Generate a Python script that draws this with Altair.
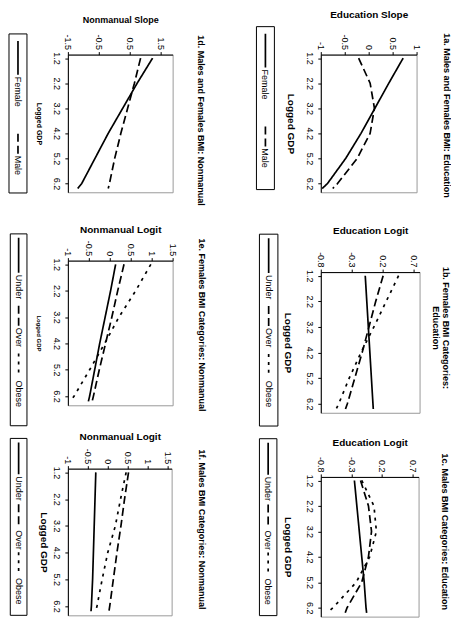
import altair as alt
import pandas as pd

FONT = "Liberation Sans"

# ---------------- data ----------------
GDP = [1.2, 2.2, 3.2, 4.2, 5.2, 6.2, 6.4]
GDP_TICKS = [1.2, 2.2, 3.2, 4.2, 5.2, 6.2]

SEX = ["Female", "Male"]
BMI = ["Under", "Over", "Obese"]

# 1a  Males and Females BMI: Education
edu_slope_female = [0.72, 0.42, 0.13, -0.16, -0.48, -0.86, -0.97]
edu_slope_male = [-0.21, 0.03, 0.12, 0.03, -0.24, -0.65, -0.75]
# 1b  Females BMI Categories: Education
edu_fem_under = [-0.08, -0.055, -0.03, -0.005, 0.02, 0.045, 0.05]
edu_fem_over = [0.21, 0.09, -0.02, -0.13, -0.25, -0.37, -0.40]
edu_fem_obese = [0.46, 0.26, 0.06, -0.15, -0.34, -0.51, -0.55]
# 1c  Males BMI Categories: Education
edu_male_under = [-0.25, -0.21, -0.17, -0.13, -0.09, -0.06, -0.05]
edu_male_over = [-0.15, -0.02, 0.03, -0.02, -0.13, -0.37, -0.40]
edu_male_obese = [-0.13, 0.07, 0.11, 0.0, -0.22, -0.60, -0.69]
# 1d  Males and Females BMI: Nonmanual
nm_slope_female = [1.25, 0.75, 0.28, -0.19, -0.62, -1.05, -1.18]
nm_slope_male = [0.86, 0.66, 0.44, 0.22, 0.02, -0.15, -0.19]
# 1e  Females BMI Categories: Nonmanual
nm_fem_under = [0.14, 0.02, -0.11, -0.24, -0.36, -0.48, -0.51]
nm_fem_over = [0.34, 0.19, 0.05, -0.10, -0.25, -0.39, -0.42]
nm_fem_obese = [0.98, 0.62, 0.22, -0.12, -0.48, -0.85, -0.94]
# 1f  Males BMI Categories: Nonmanual
nm_male_under = [-0.30, -0.32, -0.34, -0.36, -0.38, -0.41, -0.42]
nm_male_over = [0.52, 0.42, 0.33, 0.23, 0.14, 0.05, 0.03]
nm_male_obese = [0.46, 0.32, 0.19, 0.0, -0.14, -0.27, -0.30]

TICKS_A = [-1, -0.5, 0, 0.5, 1]
TICKS_BC = [-0.8, -0.3, 0.2, 0.7]
TICKS_D = [-1.5, -0.5, 0.5, 1.5]
TICKS_EF = [-1, -0.5, 0, 0.5, 1, 1.5]

# ---------------- styles ----------------
LW = 1.7
SOLID = [1, 0]
LONG = [8, 4]
SHORT = [3, 5]
DASH_OF = {"Female": SOLID, "Male": LONG, "Under": SOLID, "Over": LONG, "Obese": SHORT}
ALL_SERIES = SEX + BMI
ALL_DASH = [DASH_OF[s] for s in ALL_SERIES]

# legend item layouts: (sample start, sample end, text start) from box top
L2 = [(7, 41, 43), (100, 120, 122)]
L3_LONG = [(4, 39, 41), (72, 92, 94), (120, 140, 147)]
L3_SHORT = [(4, 36, 38), (66, 86, 92), (114, 134, 140)]

XLABEL = "datum.value < 0 ? '-' + format(-datum.value, '~g') : format(datum.value, '~g')"
ONE = pd.DataFrame({"k": [0]})


def panel(names, values, xdom, xticks, xtitle, W, H, x_title_y, x_title_size,
          gdp_title_x, gdp_title_size, box, items, titles):
    rows = []
    for name, vals in zip(names, values):
        for g, v in zip(GDP, vals):
            rows.append({"series": name, "gdp": g, "value": v})
    df = pd.DataFrame(rows)

    lines = alt.Chart(df).mark_line(color="black", strokeWidth=LW).encode(
        x=alt.X("value:Q",
                scale=alt.Scale(domain=xdom, nice=False, zero=False),
                axis=alt.Axis(orient="top", values=xticks, title=xtitle,
                              labelAngle=90, labelAlign="right", labelBaseline="middle",
                              labelPadding=2, tickSize=3, labelExpr=XLABEL,
                              labelFlush=False, labelOverlap=False, labelFontSize=9,
                              titleAngle=0, titleX=W / 2, titleY=x_title_y,
                              titleAlign="center", titleBaseline="middle",
                              titleFontSize=x_title_size, titleFontWeight="bold")),
        y=alt.Y("gdp:Q",
                scale=alt.Scale(domain=[1.06, 6.55], reverse=True, nice=False, zero=False),
                axis=alt.Axis(orient="left", values=GDP_TICKS, title="Logged GDP",
                              labelAngle=90, labelAlign="center", labelBaseline="top",
                              labelPadding=4, tickSize=3,
                              labelExpr="format(datum.value, '.1f')",
                              labelFlush=False, labelOverlap=False, labelFontSize=9,
                              titleAngle=90, titleX=gdp_title_x, titleY=H / 2,
                              titleAlign="center", titleBaseline="middle",
                              titleFontSize=gdp_title_size, titleFontWeight="bold")),
        strokeDash=alt.StrokeDash("series:N",
                                  scale=alt.Scale(domain=ALL_SERIES, range=ALL_DASH),
                                  legend=None),
        order=alt.Order("gdp:Q"),
    )

    bx0, bx1, by0, by1 = box
    cx = (bx0 + bx1) / 2
    layers = [
        alt.Chart(ONE).mark_rect(fill="white", stroke="black", strokeWidth=1).encode(
            x=alt.value(bx0), x2=alt.value(bx1), y=alt.value(by0), y2=alt.value(by1))
    ]
    for name, (s0, s1, t0) in zip(names, items):
        layers.append(
            alt.Chart(ONE).mark_rule(color="black", strokeWidth=LW,
                                     strokeDash=DASH_OF[name]).encode(
                x=alt.value(cx), y=alt.value(by0 + s0), y2=alt.value(by0 + s1)))
        layers.append(
            alt.Chart(ONE).mark_text(text=name, angle=90, align="left", baseline="middle",
                                     fontSize=9, font=FONT, color="black").encode(
                x=alt.value(cx), y=alt.value(by0 + t0)))
    for txt, tx, ty in titles:
        layers.append(
            alt.Chart(ONE).mark_text(text=txt, angle=90, align="center", baseline="middle",
                                     fontSize=9, fontWeight="bold", font=FONT,
                                     color="black").encode(
                x=alt.value(tx), y=alt.value(ty)))
    return alt.layer(lines, *layers).properties(width=W, height=H)


p1a = panel(SEX, [edu_slope_female, edu_slope_male], [-1, 1], TICKS_A, "Education Slope",
            96, 138, -40, 10, -30, 10, (-64.5, -46.5, -28, 135.3), L2,
            [("1a. Males and Females BMI: Education", 126, 61)])
p1b = panel(BMI, [edu_fem_under, edu_fem_over, edu_fem_obese], [-0.8, 0.8], TICKS_BC,
            "Education Logit", 99, 141, -41.7, 10, -33.7, 10, (-61.5, -43, -38, 154.3), L3_LONG,
            [("1b. Females BMI Categories:", 125.7, 56), ("Education", 115.7, 56)])
p1c = panel(BMI, [edu_male_under, edu_male_over, edu_male_obese], [-0.8, 0.8], TICKS_BC,
            "Education Logit", 98, 140, -34.3, 10, -33.7, 10, (-61.5, -44, -38.3, 139), L3_SHORT,
            [("1c. Males BMI Categories: Education", 124, 55)])
p1d = panel(SEX, [nm_slope_female, nm_slope_male], [-1.5, 1.9], TICKS_D, "Nonmanual Slope",
            105, 138, -35.3, 9, -29.3, 7, (-59, -41, -20.7, 138.7), L2,
            [("1d. Males and Females BMI: Nonmanual", 133, 66)])
p1e = panel(BMI, [nm_fem_under, nm_fem_over, nm_fem_obese], [-1, 1.5], TICKS_EF,
            "Nonmanual Logit", 105, 145, -31.2, 10, -29.3, 6, (-57.7, -41, -26.8, 165.5), L3_LONG,
            [("1e. Females BMI Categories: Nonmanual", 134, 64.5)])
p1f = panel(BMI, [nm_male_under, nm_male_over, nm_male_obese], [-1, 1.6], TICKS_EF,
            "Nonmanual Logit", 104, 147, -32.3, 10, -24.3, 10, (-57.7, -41, -30.3, 147), L3_SHORT,
            [("1f. Males BMI Categories: Nonmanual", 134, 61)])

left = alt.vconcat(p1d, alt.vconcat(p1e, p1f, spacing=63.5, bounds="flush"),
                   spacing=68.5, bounds="flush")
right = alt.vconcat(p1a, alt.vconcat(p1b, p1c, spacing=64.3, bounds="flush"),
                    spacing=80, bounds="flush")

chart = alt.hconcat(left, right, spacing=253.5, bounds="flush").properties(
    padding={"left": 0, "top": 0, "right": 0, "bottom": 0},
    background="white",
).configure(font=FONT).configure_view(
    stroke="#9a9a9a", strokeWidth=1
).configure_axis(
    grid=False, domainColor="black", domainWidth=1, tickColor="black", tickWidth=1,
    labelColor="black", titleColor="black", labelFont=FONT, titleFont=FONT
)

chart.save("out.html", embed_options={"renderer": "svg", "actions": False})
